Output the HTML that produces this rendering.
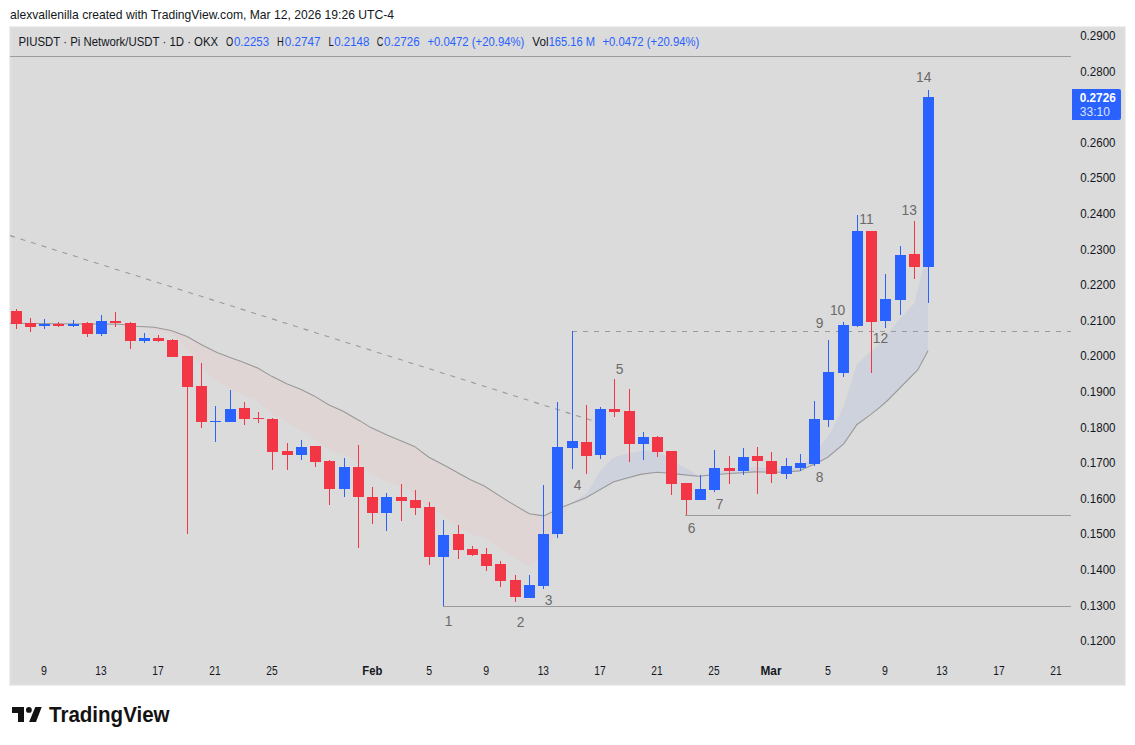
<!DOCTYPE html>
<html><head><meta charset="utf-8"><style>
html,body{margin:0;padding:0;background:#fff;width:1135px;height:745px;overflow:hidden}
svg{display:block}
text{font-family:"Liberation Sans",sans-serif;white-space:pre}
</style></head><body>
<svg width="1135" height="745" viewBox="0 0 1135 745">
<rect x="0" y="0" width="1135" height="745" fill="#ffffff"/>
<rect x="9" y="26" width="1117" height="660" fill="#eeeeee"/>
<rect x="10" y="27" width="1115" height="658" fill="#dedede"/>
<rect x="12" y="29" width="1111" height="654" fill="#dbdbdb"/>
<line x1="10" y1="56.5" x2="1071" y2="56.5" stroke="#9c9c9c" stroke-width="1"/>
<defs><clipPath id="pane"><rect x="10" y="57" width="1061" height="628"/></clipPath></defs>
<g clip-path="url(#pane)">
<path d="M120.5,324.3 L121.0,324.3 L121.5,324.4 L122.0,324.5 L122.5,324.5 L123.0,324.6 L123.5,324.7 L124.0,324.7 L124.5,324.8 L125.0,324.9 L125.5,324.9 L126.0,325.0 L126.5,325.1 L127.0,325.1 L127.5,325.2 L128.0,325.2 L128.5,325.3 L129.0,325.4 L129.5,325.4 L130.0,325.5 L130.5,325.6 L131.0,325.6 L131.5,325.7 L132.0,325.8 L132.5,325.8 L133.0,325.9 L133.5,326.0 L134.0,326.0 L134.5,326.1 L135.0,326.2 L135.5,326.2 L136.0,326.3 L136.5,326.3 L137.0,326.4 L137.5,326.4 L138.0,326.4 L138.5,326.4 L139.0,326.5 L139.5,326.5 L140.0,326.5 L140.5,326.6 L141.0,326.6 L141.5,326.6 L142.0,326.6 L142.5,326.7 L143.0,326.7 L143.5,326.7 L144.0,326.7 L144.5,326.8 L145.0,326.8 L145.5,326.8 L146.0,326.9 L146.5,326.9 L147.0,326.9 L147.5,326.9 L148.0,327.0 L148.5,327.0 L149.0,327.0 L149.5,327.1 L150.0,327.1 L150.5,327.1 L151.0,327.1 L151.5,327.2 L152.0,327.2 L152.5,327.2 L153.0,327.2 L153.5,327.3 L154.0,327.3 L154.5,327.4 L155.0,327.5 L155.5,327.6 L156.0,327.7 L156.5,327.8 L157.0,327.9 L157.5,328.0 L158.0,328.1 L158.5,328.1 L159.0,328.2 L159.5,328.3 L160.0,328.4 L160.5,328.5 L161.0,328.6 L161.5,328.7 L162.0,328.8 L162.5,328.9 L163.0,329.0 L163.5,329.1 L164.0,329.2 L164.5,329.3 L165.0,329.4 L165.5,329.5 L166.0,329.6 L166.5,329.7 L167.0,329.7 L167.5,329.8 L168.0,329.9 L168.5,330.0 L169.0,330.1 L169.5,330.2 L170.0,330.3 L170.5,330.4 L171.0,330.5 L171.5,330.7 L172.0,330.9 L172.5,331.1 L173.0,331.2 L173.5,331.4 L174.0,331.6 L174.5,331.8 L175.0,332.0 L175.5,332.2 L176.0,332.4 L176.5,332.6 L177.0,332.8 L177.5,332.9 L178.0,333.1 L178.5,333.3 L179.0,333.5 L179.5,333.7 L180.0,333.9 L180.5,334.1 L181.0,334.2 L181.5,334.4 L182.0,334.6 L182.5,334.8 L183.0,335.0 L183.5,335.2 L184.0,335.4 L184.5,335.6 L185.0,335.8 L185.5,335.9 L186.0,336.1 L186.5,336.3 L187.0,336.5 L187.5,336.8 L188.0,337.1 L188.5,337.3 L189.0,337.6 L189.5,337.9 L190.0,338.2 L190.5,338.5 L191.0,338.7 L191.5,339.0 L192.0,339.3 L192.5,339.6 L193.0,339.9 L193.5,340.1 L194.0,340.4 L194.5,340.7 L195.0,341.0 L195.5,341.3 L196.0,341.6 L196.5,341.8 L197.0,342.1 L197.5,342.4 L198.0,342.7 L198.5,343.0 L199.0,343.2 L199.5,343.5 L200.0,343.8 L200.5,344.1 L201.0,344.4 L201.5,344.6 L202.0,344.9 L202.5,345.2 L203.0,345.5 L203.5,345.7 L204.0,346.0 L204.5,346.2 L205.0,346.5 L205.5,346.7 L206.0,347.0 L206.5,347.2 L207.0,347.5 L207.5,347.7 L208.0,348.0 L208.5,348.2 L209.0,348.5 L209.5,348.7 L210.0,349.0 L210.5,349.2 L211.0,349.5 L211.5,349.7 L212.0,350.0 L212.5,350.2 L213.0,350.5 L213.5,350.7 L214.0,351.0 L214.5,351.2 L215.0,351.5 L215.5,351.7 L216.0,352.0 L216.5,352.2 L217.0,352.5 L217.5,352.7 L218.0,352.9 L218.5,353.1 L219.0,353.3 L219.5,353.5 L220.0,353.6 L220.5,353.8 L221.0,354.0 L221.5,354.2 L222.0,354.4 L222.5,354.6 L223.0,354.8 L223.5,355.0 L224.0,355.2 L224.5,355.4 L225.0,355.6 L225.5,355.7 L226.0,355.9 L226.5,356.1 L227.0,356.3 L227.5,356.5 L228.0,356.7 L228.5,356.9 L229.0,357.1 L229.5,357.3 L230.0,357.5 L230.5,357.7 L231.0,357.9 L231.5,358.0 L232.0,358.2 L232.5,358.4 L233.0,358.6 L233.5,358.8 L234.0,358.9 L234.5,359.1 L235.0,359.3 L235.5,359.5 L236.0,359.6 L236.5,359.8 L237.0,360.0 L237.5,360.1 L238.0,360.3 L238.5,360.5 L239.0,360.7 L239.5,360.8 L240.0,361.0 L240.5,361.2 L241.0,361.4 L241.5,361.6 L242.0,361.8 L242.5,362.0 L243.0,362.2 L243.5,362.4 L244.0,362.6 L244.5,362.8 L245.0,363.0 L245.5,363.2 L246.0,363.4 L246.5,363.6 L247.0,363.8 L247.5,364.0 L248.0,364.2 L248.5,364.4 L249.0,364.6 L249.5,364.8 L250.0,365.0 L250.5,365.2 L251.0,365.4 L251.5,365.5 L252.0,365.7 L252.5,365.9 L253.0,366.1 L253.5,366.3 L254.0,366.5 L254.5,366.7 L255.0,366.9 L255.5,367.1 L256.0,367.3 L256.5,367.5 L257.0,367.7 L257.5,367.9 L258.0,368.2 L258.5,368.5 L259.0,368.8 L259.5,369.1 L260.0,369.4 L260.5,369.7 L261.0,370.0 L261.5,370.3 L262.0,370.6 L262.5,370.8 L263.0,371.1 L263.5,371.4 L264.0,371.7 L264.5,372.0 L265.0,372.3 L265.5,372.6 L266.0,372.9 L266.5,373.2 L267.0,373.5 L267.5,373.8 L268.0,374.1 L268.5,374.4 L269.0,374.7 L269.5,375.0 L270.0,375.3 L270.5,375.6 L271.0,375.9 L271.5,376.2 L272.0,376.5 L272.5,376.7 L273.0,377.0 L273.5,377.2 L274.0,377.5 L274.5,377.7 L275.0,378.0 L275.5,378.2 L276.0,378.5 L276.5,378.7 L277.0,379.0 L277.5,379.2 L278.0,379.5 L278.5,379.7 L279.0,380.0 L279.5,380.2 L280.0,380.5 L280.5,380.7 L281.0,381.0 L281.5,381.2 L282.0,381.5 L282.5,381.7 L283.0,382.0 L283.5,382.2 L284.0,382.5 L284.5,382.7 L285.0,383.0 L285.5,383.2 L286.0,383.5 L286.5,383.7 L287.0,383.9 L287.5,384.1 L288.0,384.3 L288.5,384.5 L289.0,384.7 L289.5,384.9 L290.0,385.1 L290.5,385.3 L291.0,385.5 L291.5,385.7 L292.0,385.9 L292.5,386.1 L293.0,386.3 L293.5,386.5 L294.0,386.7 L294.5,386.9 L295.0,387.1 L295.5,387.3 L296.0,387.5 L296.5,387.7 L297.0,387.8 L297.5,388.0 L298.0,388.2 L298.5,388.4 L299.0,388.6 L299.5,388.8 L300.0,389.0 L300.5,389.2 L301.0,389.4 L301.5,389.6 L302.0,389.9 L302.5,390.1 L303.0,390.4 L303.5,390.6 L304.0,390.9 L304.5,391.1 L305.0,391.4 L305.5,391.6 L306.0,391.9 L306.5,392.1 L307.0,392.4 L307.5,392.6 L308.0,392.9 L308.5,393.1 L309.0,393.4 L309.5,393.6 L310.0,393.9 L310.5,394.1 L311.0,394.4 L311.5,394.6 L312.0,394.9 L312.5,395.1 L313.0,395.4 L313.5,395.6 L314.0,395.9 L314.5,396.1 L315.0,396.5 L315.5,396.8 L316.0,397.1 L316.5,397.4 L317.0,397.7 L317.5,398.0 L318.0,398.3 L318.5,398.6 L319.0,398.9 L319.5,399.2 L320.0,399.5 L320.5,399.8 L321.0,400.1 L321.5,400.4 L322.0,400.7 L322.5,401.1 L323.0,401.4 L323.5,401.7 L324.0,402.0 L324.5,402.3 L325.0,402.6 L325.5,402.9 L326.0,403.2 L326.5,403.5 L327.0,403.8 L327.5,404.1 L328.0,404.4 L328.5,404.7 L329.0,405.0 L329.5,405.2 L330.0,405.4 L330.5,405.6 L331.0,405.9 L331.5,406.1 L332.0,406.3 L332.5,406.5 L333.0,406.7 L333.5,407.0 L334.0,407.2 L334.5,407.4 L335.0,407.6 L335.5,407.8 L336.0,408.1 L336.5,408.3 L337.0,408.5 L337.5,408.7 L338.0,408.9 L338.5,409.2 L339.0,409.4 L339.5,409.6 L340.0,409.8 L340.5,410.1 L341.0,410.3 L341.5,410.5 L342.0,410.7 L342.5,410.9 L343.0,411.2 L343.5,411.4 L344.0,411.7 L344.5,412.0 L345.0,412.3 L345.5,412.6 L346.0,412.9 L346.5,413.2 L347.0,413.4 L347.5,413.7 L348.0,414.0 L348.5,414.3 L349.0,414.6 L349.5,414.9 L350.0,415.2 L350.5,415.4 L351.0,415.7 L351.5,416.0 L352.0,416.3 L352.5,416.6 L353.0,416.9 L353.5,417.2 L354.0,417.5 L354.5,417.7 L355.0,418.0 L355.5,418.3 L356.0,418.6 L356.5,418.9 L357.0,419.2 L357.5,419.5 L358.0,419.8 L358.5,420.0 L359.0,420.3 L359.5,420.6 L360.0,420.9 L360.5,421.2 L361.0,421.5 L361.5,421.8 L362.0,422.1 L362.5,422.4 L363.0,422.7 L363.5,423.1 L364.0,423.4 L364.5,423.7 L365.0,424.0 L365.5,424.3 L366.0,424.6 L366.5,424.9 L367.0,425.2 L367.5,425.5 L368.0,425.8 L368.5,426.1 L369.0,426.4 L369.5,426.7 L370.0,427.0 L370.5,427.4 L371.0,427.6 L371.5,427.9 L372.0,428.1 L372.5,428.3 L373.0,428.6 L373.5,428.8 L374.0,429.0 L374.5,429.3 L375.0,429.5 L375.5,429.7 L376.0,430.0 L376.5,430.2 L377.0,430.4 L377.5,430.7 L378.0,430.9 L378.5,431.1 L379.0,431.4 L379.5,431.6 L380.0,431.8 L380.5,432.1 L381.0,432.3 L381.5,432.5 L382.0,432.8 L382.5,433.0 L383.0,433.2 L383.5,433.5 L384.0,433.7 L384.5,433.9 L385.0,434.2 L385.5,434.4 L386.0,434.6 L386.5,434.9 L387.0,435.1 L387.5,435.3 L388.0,435.5 L388.5,435.7 L389.0,435.9 L389.5,436.1 L390.0,436.3 L390.5,436.5 L391.0,436.7 L391.5,437.0 L392.0,437.2 L392.5,437.4 L393.0,437.6 L393.5,437.8 L394.0,438.0 L394.5,438.2 L395.0,438.4 L395.5,438.6 L396.0,438.8 L396.5,439.0 L397.0,439.2 L397.5,439.4 L398.0,439.6 L398.5,439.8 L399.0,440.0 L399.5,440.3 L400.0,440.5 L400.5,440.7 L401.0,440.9 L401.5,441.1 L402.0,441.3 L402.5,441.5 L403.0,441.7 L403.5,441.9 L404.0,442.1 L404.5,442.3 L405.0,442.5 L405.5,442.7 L406.0,442.9 L406.5,443.1 L407.0,443.3 L407.5,443.6 L408.0,443.8 L408.5,444.0 L409.0,444.2 L409.5,444.4 L410.0,444.6 L410.5,444.8 L411.0,445.0 L411.5,445.2 L412.0,445.4 L412.5,445.6 L413.0,445.8 L413.5,446.0 L414.0,446.2 L414.5,446.5 L415.0,446.8 L415.5,447.2 L416.0,447.6 L416.5,448.0 L417.0,448.3 L417.5,448.7 L418.0,449.1 L418.5,449.5 L419.0,449.8 L419.5,450.2 L420.0,450.6 L420.5,450.9 L421.0,451.3 L421.5,451.7 L422.0,452.1 L422.5,452.4 L423.0,452.8 L423.5,453.2 L424.0,453.6 L424.5,453.9 L425.0,454.3 L425.5,454.7 L426.0,455.0 L426.5,455.4 L427.0,455.8 L427.5,456.2 L428.0,456.5 L428.5,456.9 L429.0,457.3 L429.5,457.5 L430.0,457.8 L430.5,458.0 L431.0,458.3 L431.5,458.6 L432.0,458.8 L432.5,459.1 L433.0,459.4 L433.5,459.6 L434.0,459.9 L434.5,460.1 L435.0,460.4 L435.5,460.7 L436.0,460.9 L436.5,461.2 L437.0,461.5 L437.5,461.7 L438.0,462.0 L438.5,462.2 L439.0,462.5 L439.5,462.8 L440.0,463.0 L440.5,463.3 L441.0,463.6 L441.5,463.8 L442.0,464.1 L442.5,464.3 L443.0,464.6 L443.5,464.9 L444.0,465.1 L444.5,465.4 L445.0,465.7 L445.5,465.9 L446.0,466.2 L446.5,466.4 L447.0,466.7 L447.5,467.0 L448.0,467.3 L448.5,467.6 L449.0,467.8 L449.5,468.1 L450.0,468.4 L450.5,468.7 L451.0,469.0 L451.5,469.2 L452.0,469.5 L452.5,469.8 L453.0,470.1 L453.5,470.4 L454.0,470.6 L454.5,470.9 L455.0,471.2 L455.5,471.5 L456.0,471.8 L456.5,472.0 L457.0,472.3 L457.5,472.6 L458.0,472.9 L458.5,473.2 L459.0,473.4 L459.5,473.7 L460.0,474.0 L460.5,474.3 L461.0,474.5 L461.5,474.8 L462.0,475.1 L462.5,475.4 L463.0,475.6 L463.5,475.9 L464.0,476.2 L464.5,476.4 L465.0,476.7 L465.5,477.0 L466.0,477.2 L466.5,477.5 L467.0,477.8 L467.5,478.0 L468.0,478.3 L468.5,478.6 L469.0,478.9 L469.5,479.1 L470.0,479.4 L470.5,479.6 L471.0,479.9 L471.5,480.1 L472.0,480.3 L472.5,480.6 L473.0,480.8 L473.5,481.1 L474.0,481.3 L474.5,481.5 L475.0,481.8 L475.5,482.0 L476.0,482.2 L476.5,482.5 L477.0,482.7 L477.5,482.9 L478.0,483.2 L478.5,483.4 L479.0,483.6 L479.5,483.9 L480.0,484.1 L480.5,484.4 L481.0,484.6 L481.5,484.8 L482.0,485.1 L482.5,485.3 L483.0,485.5 L483.5,485.8 L484.0,486.0 L484.5,486.3 L485.0,486.6 L485.5,486.9 L486.0,487.2 L486.5,487.6 L487.0,487.9 L487.5,488.2 L488.0,488.5 L488.5,488.8 L489.0,489.1 L489.5,489.5 L490.0,489.8 L490.5,490.1 L491.0,490.4 L491.5,490.7 L492.0,491.1 L492.5,491.4 L493.0,491.7 L493.5,492.0 L494.0,492.3 L494.5,492.6 L495.0,493.0 L495.5,493.3 L496.0,493.6 L496.5,493.9 L497.0,494.2 L497.5,494.5 L498.0,494.9 L498.5,495.2 L499.0,495.5 L499.5,495.8 L500.0,496.1 L500.5,496.4 L501.0,496.8 L501.5,497.1 L502.0,497.4 L502.5,497.7 L503.0,498.0 L503.5,498.4 L504.0,498.7 L504.5,499.0 L505.0,499.3 L505.5,499.6 L506.0,499.9 L506.5,500.3 L507.0,500.6 L507.5,500.9 L508.0,501.2 L508.5,501.5 L509.0,501.8 L509.5,502.1 L510.0,502.4 L510.5,502.7 L511.0,503.0 L511.5,503.3 L512.0,503.6 L512.5,503.9 L513.0,504.2 L513.5,504.5 L514.0,504.8 L514.5,505.1 L515.0,505.4 L515.5,505.7 L516.0,505.9 L516.5,506.2 L517.0,506.5 L517.5,506.8 L518.0,507.1 L518.5,507.4 L519.0,507.7 L519.5,508.0 L520.0,508.3 L520.5,508.6 L521.0,508.9 L521.5,509.2 L522.0,509.5 L522.5,509.8 L523.0,510.1 L523.5,510.4 L524.0,510.7 L524.5,511.0 L525.0,511.3 L525.5,511.6 L526.0,511.9 L526.5,512.1 L527.0,512.4 L527.5,512.7 L528.0,513.0 L528.5,513.3 L529.0,513.6 L529.5,513.8 L530.0,513.9 L530.5,514.0 L531.0,514.0 L531.5,514.1 L532.0,514.2 L532.5,514.3 L533.0,514.3 L533.5,514.4 L534.0,514.5 L534.5,514.6 L535.0,514.6 L535.5,514.7 L536.0,514.8 L536.5,514.8 L537.0,514.9 L537.5,515.0 L538.0,515.1 L538.5,515.1 L539.0,515.2 L539.5,515.3 L540.0,515.3 L540.5,515.4 L541.0,515.5 L541.5,515.6 L542.0,515.6 L542.5,515.7 L543.0,515.8 L543.5,515.9 L544.0,515.8 L544.5,515.6 L545.0,515.3 L545.5,515.1 L546.0,514.9 L546.5,514.6 L547.0,514.4 L547.5,514.1 L548.0,513.9 L548.5,513.7 L549.0,513.4 L549.5,513.2 L550.0,512.9 L550.5,512.7 L551.0,512.5 L551.5,512.2 L552.0,512.0 L552.5,511.8 L553.0,511.5 L553.5,511.3 L554.0,511.0 L554.5,510.8 L555.0,510.6 L555.5,510.3 L556.0,510.1 L556.5,509.8 L557.0,509.6 L557.5,509.4 L558.0,509.1 L558.5,508.9 L559.0,508.7 L559.5,508.4 L560.0,508.2 L560.5,507.9 L561.0,507.7 L561.5,507.5 L562.0,507.2 L562.5,507.0 L563.0,506.7 L563.5,506.5 L564.0,506.3 L564.5,506.1 L565.0,506.0 L565.5,505.8 L566.0,505.6 L566.5,505.4 L567.0,505.2 L567.5,505.0 L568.0,504.8 L568.5,504.6 L569.0,504.4 L569.5,504.2 L570.0,504.0 L570.5,503.8 L570.5,503.8 L570.0,504.7 L569.5,505.5 L569.0,506.3 L568.5,507.2 L568.0,508.0 L567.5,508.8 L567.0,509.7 L566.5,510.5 L566.0,511.3 L565.5,512.2 L565.0,513.0 L564.5,514.2 L564.0,515.4 L563.5,516.6 L563.0,517.8 L562.5,519.0 L562.0,520.1 L561.5,521.3 L561.0,522.5 L560.5,523.7 L560.0,524.9 L559.5,526.1 L559.0,527.3 L558.5,528.5 L558.0,529.7 L557.5,530.9 L557.0,532.0 L556.5,533.2 L556.0,533.9 L555.5,534.7 L555.0,535.4 L554.5,536.2 L554.0,536.9 L553.5,537.7 L553.0,538.5 L552.5,539.2 L552.0,540.0 L551.5,540.7 L551.0,541.5 L550.5,542.3 L550.0,543.0 L549.5,543.8 L549.0,544.5 L548.5,545.3 L548.0,546.1 L547.5,546.8 L547.0,547.6 L546.5,548.3 L546.0,549.1 L545.5,549.8 L545.0,550.4 L544.5,550.9 L544.0,551.4 L543.5,552.0 L543.0,552.5 L542.5,553.0 L542.0,553.5 L541.5,554.0 L541.0,554.5 L540.5,555.1 L540.0,555.6 L539.5,556.1 L539.0,556.6 L538.5,557.1 L538.0,557.6 L537.5,558.1 L537.0,558.7 L536.5,559.2 L536.0,559.7 L535.5,560.2 L535.0,560.7 L534.5,561.2 L534.0,561.8 L533.5,562.3 L533.0,562.8 L532.5,563.3 L532.0,563.8 L531.5,564.3 L531.0,564.8 L530.5,565.4 L530.0,565.9 L529.5,566.4 L529.0,566.4 L528.5,566.1 L528.0,565.8 L527.5,565.5 L527.0,565.2 L526.5,564.9 L526.0,564.6 L525.5,564.3 L525.0,564.0 L524.5,563.7 L524.0,563.4 L523.5,563.1 L523.0,562.8 L522.5,562.5 L522.0,562.2 L521.5,561.8 L521.0,561.5 L520.5,561.2 L520.0,560.9 L519.5,560.6 L519.0,560.3 L518.5,560.0 L518.0,559.7 L517.5,559.4 L517.0,559.1 L516.5,558.8 L516.0,558.5 L515.5,558.2 L515.0,557.9 L514.5,557.6 L514.0,557.3 L513.5,557.0 L513.0,556.7 L512.5,556.4 L512.0,556.1 L511.5,555.8 L511.0,555.4 L510.5,555.1 L510.0,554.8 L509.5,554.5 L509.0,554.2 L508.5,553.9 L508.0,553.6 L507.5,553.3 L507.0,552.9 L506.5,552.6 L506.0,552.3 L505.5,551.9 L505.0,551.6 L504.5,551.3 L504.0,550.9 L503.5,550.6 L503.0,550.3 L502.5,549.9 L502.0,549.6 L501.5,549.3 L501.0,548.9 L500.5,548.6 L500.0,548.3 L499.5,547.9 L499.0,547.6 L498.5,547.3 L498.0,546.9 L497.5,546.6 L497.0,546.3 L496.5,545.9 L496.0,545.6 L495.5,545.2 L495.0,544.9 L494.5,544.6 L494.0,544.2 L493.5,543.9 L493.0,543.6 L492.5,543.2 L492.0,542.9 L491.5,542.6 L491.0,542.2 L490.5,541.9 L490.0,541.6 L489.5,541.2 L489.0,540.9 L488.5,540.6 L488.0,540.2 L487.5,539.9 L487.0,539.6 L486.5,539.2 L486.0,538.9 L485.5,538.6 L485.0,538.2 L484.5,537.9 L484.0,537.6 L483.5,537.5 L483.0,537.3 L482.5,537.2 L482.0,537.0 L481.5,536.9 L481.0,536.8 L480.5,536.6 L480.0,536.5 L479.5,536.3 L479.0,536.2 L478.5,536.0 L478.0,535.9 L477.5,535.7 L477.0,535.6 L476.5,535.4 L476.0,535.3 L475.5,535.1 L475.0,535.0 L474.5,534.8 L474.0,534.7 L473.5,534.5 L473.0,534.4 L472.5,534.2 L472.0,534.1 L471.5,533.9 L471.0,533.8 L470.5,533.6 L470.0,533.5 L469.5,533.2 L469.0,533.0 L468.5,532.7 L468.0,532.5 L467.5,532.2 L467.0,531.9 L466.5,531.7 L466.0,531.4 L465.5,531.1 L465.0,530.9 L464.5,530.6 L464.0,530.4 L463.5,530.1 L463.0,529.8 L462.5,529.6 L462.0,529.3 L461.5,529.0 L461.0,528.8 L460.5,528.5 L460.0,528.3 L459.5,528.0 L459.0,527.6 L458.5,527.3 L458.0,526.9 L457.5,526.5 L457.0,526.2 L456.5,525.8 L456.0,525.5 L455.5,525.1 L455.0,524.7 L454.5,524.4 L454.0,524.0 L453.5,523.6 L453.0,523.3 L452.5,522.9 L452.0,522.6 L451.5,522.2 L451.0,521.8 L450.5,521.5 L450.0,521.1 L449.5,520.7 L449.0,520.4 L448.5,520.0 L448.0,519.7 L447.5,519.3 L447.0,518.9 L446.5,518.6 L446.0,518.2 L445.5,517.8 L445.0,517.5 L444.5,517.1 L444.0,516.8 L443.5,516.4 L443.0,516.0 L442.5,515.7 L442.0,515.3 L441.5,514.9 L441.0,514.6 L440.5,514.2 L440.0,513.9 L439.5,513.5 L439.0,513.2 L438.5,512.8 L438.0,512.5 L437.5,512.2 L437.0,511.8 L436.5,511.5 L436.0,511.2 L435.5,510.8 L435.0,510.5 L434.5,510.1 L434.0,509.8 L433.5,509.5 L433.0,509.1 L432.5,508.8 L432.0,508.4 L431.5,508.1 L431.0,507.8 L430.5,507.4 L430.0,507.1 L429.5,506.7 L429.0,506.4 L428.5,506.1 L428.0,505.7 L427.5,505.4 L427.0,505.1 L426.5,504.7 L426.0,504.4 L425.5,504.0 L425.0,503.7 L424.5,503.4 L424.0,503.0 L423.5,502.7 L423.0,502.3 L422.5,502.0 L422.0,501.6 L421.5,501.1 L421.0,500.7 L420.5,500.2 L420.0,499.8 L419.5,499.4 L419.0,498.9 L418.5,498.5 L418.0,498.1 L417.5,497.6 L417.0,497.2 L416.5,496.7 L416.0,496.3 L415.5,495.9 L415.0,495.4 L414.5,495.0 L414.0,494.6 L413.5,494.1 L413.0,493.7 L412.5,493.2 L412.0,492.8 L411.5,492.4 L411.0,491.9 L410.5,491.5 L410.0,491.1 L409.5,490.7 L409.0,490.5 L408.5,490.2 L408.0,490.0 L407.5,489.8 L407.0,489.6 L406.5,489.4 L406.0,489.2 L405.5,489.0 L405.0,488.8 L404.5,488.6 L404.0,488.4 L403.5,488.2 L403.0,488.0 L402.5,487.8 L402.0,487.5 L401.5,487.3 L401.0,487.1 L400.5,486.9 L400.0,486.7 L399.5,486.5 L399.0,486.3 L398.5,486.1 L398.0,485.9 L397.5,485.7 L397.0,485.5 L396.5,485.3 L396.0,485.1 L395.5,484.9 L395.0,484.6 L394.5,484.4 L394.0,484.2 L393.5,484.0 L393.0,483.8 L392.5,483.6 L392.0,483.4 L391.5,483.2 L391.0,483.0 L390.5,482.8 L390.0,482.6 L389.5,482.4 L389.0,482.2 L388.5,481.9 L388.0,481.7 L387.5,481.5 L387.0,481.3 L386.5,481.1 L386.0,480.9 L385.5,480.7 L385.0,480.5 L384.5,480.3 L384.0,480.1 L383.5,479.9 L383.0,479.7 L382.5,479.4 L382.0,479.2 L381.5,479.0 L381.0,478.8 L380.5,478.6 L380.0,478.4 L379.5,478.2 L379.0,478.0 L378.5,477.8 L378.0,477.6 L377.5,477.4 L377.0,477.1 L376.5,476.9 L376.0,476.7 L375.5,476.5 L375.0,476.3 L374.5,476.1 L374.0,475.9 L373.5,475.7 L373.0,475.5 L372.5,475.3 L372.0,475.1 L371.5,474.9 L371.0,474.6 L370.5,474.2 L370.0,473.8 L369.5,473.3 L369.0,472.8 L368.5,472.4 L368.0,471.9 L367.5,471.4 L367.0,471.0 L366.5,470.5 L366.0,470.0 L365.5,469.5 L365.0,469.1 L364.5,468.6 L364.0,468.1 L363.5,467.7 L363.0,467.2 L362.5,466.7 L362.0,466.3 L361.5,465.8 L361.0,465.3 L360.5,464.9 L360.0,464.4 L359.5,464.1 L359.0,463.7 L358.5,463.4 L358.0,463.0 L357.5,462.7 L357.0,462.3 L356.5,462.0 L356.0,461.6 L355.5,461.3 L355.0,460.9 L354.5,460.6 L354.0,460.2 L353.5,459.9 L353.0,459.5 L352.5,459.2 L352.0,458.8 L351.5,458.5 L351.0,458.1 L350.5,457.8 L350.0,457.4 L349.5,457.1 L349.0,456.9 L348.5,456.8 L348.0,456.6 L347.5,456.5 L347.0,456.3 L346.5,456.1 L346.0,456.0 L345.5,455.8 L345.0,455.7 L344.5,455.5 L344.0,455.4 L343.5,455.2 L343.0,455.0 L342.5,454.9 L342.0,454.7 L341.5,454.6 L341.0,454.4 L340.5,454.2 L340.0,454.1 L339.5,453.9 L339.0,453.8 L338.5,453.6 L338.0,453.5 L337.5,453.3 L337.0,453.1 L336.5,453.0 L336.0,452.8 L335.5,452.7 L335.0,452.5 L334.5,452.3 L334.0,452.2 L333.5,452.0 L333.0,451.8 L332.5,451.4 L332.0,451.1 L331.5,450.8 L331.0,450.5 L330.5,450.2 L330.0,449.9 L329.5,449.6 L329.0,449.3 L328.5,449.0 L328.0,448.6 L327.5,448.3 L327.0,448.0 L326.5,447.7 L326.0,447.4 L325.5,447.1 L325.0,446.8 L324.5,446.5 L324.0,446.2 L323.5,445.9 L323.0,445.5 L322.5,445.2 L322.0,444.9 L321.5,444.6 L321.0,444.3 L320.5,444.0 L320.0,443.7 L319.5,443.4 L319.0,443.1 L318.5,442.7 L318.0,442.4 L317.5,442.1 L317.0,441.8 L316.5,441.4 L316.0,441.0 L315.5,440.7 L315.0,440.3 L314.5,439.9 L314.0,439.5 L313.5,439.2 L313.0,438.8 L312.5,438.4 L312.0,438.0 L311.5,437.7 L311.0,437.3 L310.5,436.9 L310.0,436.6 L309.5,436.2 L309.0,435.8 L308.5,435.4 L308.0,435.1 L307.5,434.7 L307.0,434.3 L306.5,434.0 L306.0,433.6 L305.5,433.2 L305.0,432.8 L304.5,432.5 L304.0,432.1 L303.5,431.7 L303.0,431.3 L302.5,431.0 L302.0,430.6 L301.5,430.2 L301.0,429.9 L300.5,429.6 L300.0,429.4 L299.5,429.1 L299.0,428.9 L298.5,428.6 L298.0,428.3 L297.5,428.1 L297.0,427.8 L296.5,427.6 L296.0,427.3 L295.5,427.1 L295.0,426.8 L294.5,426.5 L294.0,426.3 L293.5,426.0 L293.0,425.8 L292.5,425.5 L292.0,425.2 L291.5,425.0 L291.0,424.7 L290.5,424.5 L290.0,424.2 L289.5,423.9 L289.0,423.7 L288.5,423.4 L288.0,423.2 L287.5,422.9 L287.0,422.7 L286.5,422.4 L286.0,422.1 L285.5,421.7 L285.0,421.4 L284.5,421.1 L284.0,420.8 L283.5,420.5 L283.0,420.2 L282.5,419.9 L282.0,419.6 L281.5,419.2 L281.0,418.9 L280.5,418.6 L280.0,418.3 L279.5,418.0 L279.0,417.7 L278.5,417.4 L278.0,417.0 L277.5,416.7 L277.0,416.4 L276.5,416.1 L276.0,415.8 L275.5,415.5 L275.0,415.2 L274.5,414.9 L274.0,414.5 L273.5,414.2 L273.0,413.9 L272.5,413.6 L272.0,413.3 L271.5,413.0 L271.0,412.7 L270.5,412.3 L270.0,412.0 L269.5,411.7 L269.0,411.4 L268.5,411.1 L268.0,410.8 L267.5,410.5 L267.0,410.0 L266.5,409.6 L266.0,409.1 L265.5,408.7 L265.0,408.2 L264.5,407.7 L264.0,407.3 L263.5,406.8 L263.0,406.4 L262.5,405.9 L262.0,405.4 L261.5,405.0 L261.0,404.5 L260.5,404.0 L260.0,403.6 L259.5,403.1 L259.0,402.7 L258.5,402.2 L258.0,401.7 L257.5,401.3 L257.0,400.8 L256.5,400.4 L256.0,400.0 L255.5,399.8 L255.0,399.7 L254.5,399.6 L254.0,399.4 L253.5,399.3 L253.0,399.1 L252.5,399.0 L252.0,398.9 L251.5,398.7 L251.0,398.6 L250.5,398.4 L250.0,398.3 L249.5,398.0 L249.0,397.8 L248.5,397.5 L248.0,397.3 L247.5,397.0 L247.0,396.8 L246.5,396.5 L246.0,396.3 L245.5,396.0 L245.0,395.8 L244.5,395.5 L244.0,395.3 L243.5,395.0 L243.0,394.8 L242.5,394.6 L242.0,394.3 L241.5,394.1 L241.0,393.9 L240.5,393.6 L240.0,393.4 L239.5,393.2 L239.0,392.9 L238.5,392.7 L238.0,392.5 L237.5,392.2 L237.0,392.0 L236.5,391.8 L236.0,391.6 L235.5,391.3 L235.0,391.1 L234.5,390.9 L234.0,390.6 L233.5,390.4 L233.0,390.2 L232.5,389.9 L232.0,389.7 L231.5,389.5 L231.0,389.2 L230.5,389.0 L230.0,388.7 L229.5,388.4 L229.0,388.1 L228.5,387.9 L228.0,387.6 L227.5,387.3 L227.0,387.0 L226.5,386.7 L226.0,386.4 L225.5,386.2 L225.0,385.9 L224.5,385.6 L224.0,385.3 L223.5,385.0 L223.0,384.8 L222.5,384.5 L222.0,384.2 L221.5,383.9 L221.0,383.6 L220.5,383.3 L220.0,383.1 L219.5,382.8 L219.0,382.5 L218.5,382.2 L218.0,381.9 L217.5,381.6 L217.0,381.4 L216.5,381.1 L216.0,380.8 L215.5,380.5 L215.0,380.0 L214.5,379.5 L214.0,379.0 L213.5,378.5 L213.0,378.0 L212.5,377.5 L212.0,377.0 L211.5,376.5 L211.0,376.0 L210.5,375.5 L210.0,375.0 L209.5,374.5 L209.0,374.0 L208.5,373.5 L208.0,373.0 L207.5,372.5 L207.0,372.0 L206.5,371.5 L206.0,371.0 L205.5,370.5 L205.0,370.0 L204.5,369.5 L204.0,369.0 L203.5,368.5 L203.0,368.0 L202.5,367.5 L202.0,367.0 L201.5,366.5 L201.0,365.9 L200.5,365.3 L200.0,364.7 L199.5,364.1 L199.0,363.6 L198.5,363.0 L198.0,362.4 L197.5,361.8 L197.0,361.2 L196.5,360.6 L196.0,360.0 L195.5,359.4 L195.0,358.8 L194.5,358.2 L194.0,357.7 L193.5,357.1 L193.0,356.5 L192.5,355.9 L192.0,355.3 L191.5,354.7 L191.0,354.1 L190.5,353.5 L190.0,352.9 L189.5,352.4 L189.0,351.8 L188.5,351.2 L188.0,350.6 L187.5,350.0 L187.0,349.5 L186.5,348.9 L186.0,348.4 L185.5,347.8 L185.0,347.3 L184.5,346.7 L184.0,346.2 L183.5,345.6 L183.0,345.1 L182.5,344.5 L182.0,344.0 L181.5,343.4 L181.0,342.9 L180.5,342.3 L180.0,341.8 L179.5,341.3 L179.0,340.8 L178.5,340.3 L178.0,339.9 L177.5,339.4 L177.0,338.9 L176.5,338.4 L176.0,337.9 L175.5,337.4 L175.0,336.9 L174.5,336.4 L174.0,336.0 L173.5,335.5 L173.0,335.0 L172.5,334.5 L172.0,334.3 L171.5,334.2 L171.0,334.0 L170.5,333.9 L170.0,333.7 L169.5,333.6 L169.0,333.4 L168.5,333.3 L168.0,333.1 L167.5,333.0 L167.0,332.8 L166.5,332.7 L166.0,332.5 L165.5,332.4 L165.0,332.2 L164.5,332.1 L164.0,331.9 L163.5,331.8 L163.0,331.6 L162.5,331.5 L162.0,331.3 L161.5,331.2 L161.0,331.0 L160.5,330.9 L160.0,330.7 L159.5,330.6 L159.0,330.6 L158.5,330.5 L158.0,330.4 L157.5,330.3 L157.0,330.3 L156.5,330.2 L156.0,330.1 L155.5,330.1 L155.0,330.0 L154.5,329.9 L154.0,329.9 L153.5,329.8 L153.0,329.7 L152.5,329.6 L152.0,329.6 L151.5,329.5 L151.0,329.4 L150.5,329.4 L150.0,329.3 L149.5,329.2 L149.0,329.1 L148.5,329.1 L148.0,329.0 L147.5,328.9 L147.0,328.9 L146.5,328.8 L146.0,328.7 L145.5,328.6 L145.0,328.6 L144.5,328.5 L144.0,328.4 L143.5,328.4 L143.0,328.3 L142.5,328.2 L142.0,328.1 L141.5,328.1 L141.0,328.0 L140.5,327.9 L140.0,327.9 L139.5,327.8 L139.0,327.7 L138.5,327.7 L138.0,327.6 L137.5,327.5 L137.0,327.4 L136.5,327.4 L136.0,327.3 L135.5,327.2 L135.0,327.1 L134.5,327.0 L134.0,326.9 L133.5,326.8 L133.0,326.7 L132.5,326.6 L132.0,326.5 L131.5,326.4 L131.0,326.3 L130.5,326.2 L130.0,326.1 L129.5,326.0 L129.0,325.9 L128.5,325.8 L128.0,325.8 L127.5,325.7 L127.0,325.6 L126.5,325.5 L126.0,325.4 L125.5,325.3 L125.0,325.2 L124.5,325.1 L124.0,325.0 L123.5,324.9 L123.0,324.8 L122.5,324.7 L122.0,324.6 L121.5,324.5 L121.0,324.4 L120.5,324.3 Z" fill="#ded5d4"/>
<path d="M571.0,503.6 L571.5,503.4 L572.0,503.2 L572.5,503.0 L573.0,502.8 L573.5,502.6 L574.0,502.4 L574.5,502.2 L575.0,502.0 L575.5,501.8 L576.0,501.6 L576.5,501.4 L577.0,501.2 L577.5,501.0 L578.0,500.8 L578.5,500.6 L579.0,500.5 L579.5,500.3 L580.0,500.1 L580.5,499.9 L581.0,499.7 L581.5,499.5 L582.0,499.3 L582.5,499.1 L583.0,498.9 L583.5,498.7 L584.0,498.5 L584.5,498.3 L585.0,498.1 L585.5,497.9 L586.0,497.6 L586.5,497.3 L587.0,497.0 L587.5,496.8 L588.0,496.5 L588.5,496.2 L589.0,495.9 L589.5,495.6 L590.0,495.3 L590.5,495.0 L591.0,494.7 L591.5,494.5 L592.0,494.2 L592.5,493.9 L593.0,493.6 L593.5,493.3 L594.0,493.0 L594.5,492.7 L595.0,492.4 L595.5,492.2 L596.0,491.9 L596.5,491.6 L597.0,491.3 L597.5,491.0 L598.0,490.7 L598.5,490.4 L599.0,490.1 L599.5,489.9 L600.0,489.6 L600.5,489.3 L601.0,489.0 L601.5,488.7 L602.0,488.4 L602.5,488.1 L603.0,487.8 L603.5,487.6 L604.0,487.3 L604.5,487.0 L605.0,486.7 L605.5,486.4 L606.0,486.1 L606.5,485.8 L607.0,485.5 L607.5,485.3 L608.0,485.0 L608.5,484.7 L609.0,484.4 L609.5,484.1 L610.0,483.8 L610.5,483.5 L611.0,483.3 L611.5,483.0 L612.0,482.7 L612.5,482.4 L613.0,482.1 L613.5,481.8 L614.0,481.6 L614.5,481.5 L615.0,481.3 L615.5,481.2 L616.0,481.1 L616.5,480.9 L617.0,480.8 L617.5,480.7 L618.0,480.5 L618.5,480.4 L619.0,480.3 L619.5,480.1 L620.0,480.0 L620.5,479.8 L621.0,479.7 L621.5,479.6 L622.0,479.4 L622.5,479.3 L623.0,479.2 L623.5,479.0 L624.0,478.9 L624.5,478.8 L625.0,478.6 L625.5,478.5 L626.0,478.3 L626.5,478.2 L627.0,478.1 L627.5,477.9 L628.0,477.8 L628.5,477.7 L629.0,477.5 L629.5,477.4 L630.0,477.3 L630.5,477.1 L631.0,477.0 L631.5,476.9 L632.0,476.7 L632.5,476.6 L633.0,476.4 L633.5,476.3 L634.0,476.2 L634.5,476.0 L635.0,475.9 L635.5,475.8 L636.0,475.6 L636.5,475.5 L637.0,475.4 L637.5,475.2 L638.0,475.1 L638.5,474.9 L639.0,474.8 L639.5,474.7 L640.0,474.5 L640.5,474.4 L641.0,474.3 L641.5,474.3 L642.0,474.2 L642.5,474.1 L643.0,474.1 L643.5,474.0 L644.0,473.9 L644.5,473.9 L645.0,473.8 L645.5,473.7 L646.0,473.7 L646.5,473.6 L647.0,473.6 L647.5,473.5 L648.0,473.4 L648.5,473.4 L649.0,473.3 L649.5,473.2 L650.0,473.2 L650.5,473.1 L651.0,473.0 L651.5,473.0 L652.0,472.9 L652.5,472.8 L653.0,472.8 L653.5,472.7 L654.0,472.6 L654.5,472.6 L655.0,472.5 L655.5,472.4 L656.0,472.4 L656.5,472.3 L657.0,472.3 L657.5,472.4 L658.0,472.4 L658.5,472.4 L659.0,472.5 L659.5,472.5 L660.0,472.5 L660.5,472.6 L661.0,472.6 L661.5,472.6 L662.0,472.6 L662.5,472.7 L663.0,472.7 L663.5,472.7 L664.0,472.8 L664.5,472.8 L665.0,472.8 L665.5,472.9 L666.0,472.9 L666.5,472.9 L667.0,473.0 L667.5,473.0 L668.0,473.1 L668.5,473.1 L669.0,473.2 L669.5,473.2 L670.0,473.3 L670.5,473.3 L671.0,473.4 L671.5,473.5 L672.0,473.5 L672.5,473.6 L673.0,473.6 L673.5,473.7 L674.0,473.7 L674.5,473.8 L675.0,473.8 L675.5,473.9 L676.0,474.0 L676.5,474.0 L677.0,474.1 L677.5,474.1 L678.0,474.2 L678.5,474.2 L679.0,474.3 L679.5,474.3 L680.0,474.4 L680.5,474.4 L681.0,474.5 L681.5,474.5 L682.0,474.6 L682.5,474.6 L683.0,474.7 L683.5,474.7 L684.0,474.8 L684.5,474.8 L685.0,474.9 L685.5,474.9 L686.0,475.0 L686.5,475.0 L687.0,475.1 L687.5,475.1 L688.0,475.2 L688.5,475.2 L689.0,475.3 L689.5,475.3 L690.0,475.4 L690.5,475.4 L691.0,475.5 L691.5,475.5 L692.0,475.6 L692.5,475.6 L693.0,475.7 L693.5,475.7 L694.0,475.8 L694.5,475.8 L695.0,475.9 L695.5,475.9 L696.0,476.0 L696.5,476.0 L697.0,476.1 L697.5,476.1 L698.0,476.2 L698.5,476.2 L699.0,476.1 L699.5,476.1 L700.0,476.0 L700.5,476.0 L701.0,476.0 L701.5,475.9 L702.0,475.9 L702.5,475.8 L703.0,475.8 L703.5,475.7 L704.0,475.7 L704.5,475.6 L705.0,475.6 L705.5,475.6 L706.0,475.5 L706.5,475.5 L707.0,475.4 L707.5,475.4 L708.0,475.3 L708.5,475.3 L709.0,475.2 L709.5,475.2 L710.0,475.2 L710.5,475.1 L711.0,475.1 L711.5,475.0 L712.0,475.0 L712.5,474.9 L713.0,474.9 L713.5,474.8 L714.0,474.8 L714.5,474.8 L715.0,474.7 L715.5,474.7 L716.0,474.6 L716.5,474.6 L717.0,474.5 L717.5,474.5 L718.0,474.4 L718.5,474.4 L719.0,474.4 L719.5,474.3 L720.0,474.3 L720.5,474.2 L721.0,474.2 L721.5,474.1 L722.0,474.1 L722.5,474.0 L723.0,474.0 L723.5,474.0 L724.0,473.9 L724.5,473.9 L725.0,473.8 L725.5,473.8 L726.0,473.7 L726.5,473.7 L727.0,473.7 L727.5,473.6 L728.0,473.6 L728.5,473.6 L729.0,473.5 L729.5,473.5 L730.0,473.5 L730.5,473.4 L731.0,473.4 L731.5,473.4 L732.0,473.3 L732.5,473.3 L733.0,473.3 L733.5,473.2 L734.0,473.2 L734.5,473.2 L735.0,473.2 L735.5,473.1 L736.0,473.1 L736.5,473.1 L737.0,473.0 L737.5,473.0 L738.0,473.0 L738.5,472.9 L739.0,472.9 L739.5,472.9 L740.0,472.8 L740.5,472.8 L741.0,472.8 L741.5,472.7 L742.0,472.7 L742.5,472.7 L743.0,472.6 L743.5,472.6 L744.0,472.6 L744.5,472.5 L745.0,472.5 L745.5,472.5 L746.0,472.4 L746.5,472.4 L747.0,472.4 L747.5,472.4 L748.0,472.3 L748.5,472.3 L749.0,472.3 L749.5,472.2 L750.0,472.2 L750.5,472.2 L751.0,472.1 L751.5,472.1 L752.0,472.1 L752.5,472.0 L753.0,472.0 L753.5,472.0 L754.0,471.9 L754.5,471.9 L755.0,471.9 L755.5,471.9 L756.0,471.9 L756.5,471.9 L757.0,471.9 L757.5,471.9 L758.0,471.9 L758.5,472.0 L759.0,472.0 L759.5,472.0 L760.0,472.0 L760.5,472.0 L761.0,472.0 L761.5,472.0 L762.0,472.0 L762.5,472.0 L763.0,472.0 L763.5,472.0 L764.0,472.0 L764.5,472.0 L765.0,472.0 L765.5,472.1 L766.0,472.1 L766.5,472.1 L767.0,472.1 L767.5,472.1 L768.0,472.1 L768.5,472.1 L769.0,472.1 L769.5,472.1 L770.0,472.1 L770.5,472.1 L771.0,472.1 L771.5,472.1 L772.0,472.1 L772.5,472.2 L773.0,472.2 L773.5,472.2 L774.0,472.2 L774.5,472.2 L775.0,472.2 L775.5,472.2 L776.0,472.2 L776.5,472.2 L777.0,472.2 L777.5,472.2 L778.0,472.2 L778.5,472.2 L779.0,472.2 L779.5,472.3 L780.0,472.3 L780.5,472.3 L781.0,472.3 L781.5,472.3 L782.0,472.3 L782.5,472.3 L783.0,472.3 L783.5,472.2 L784.0,472.2 L784.5,472.2 L785.0,472.1 L785.5,472.1 L786.0,472.0 L786.5,472.0 L787.0,472.0 L787.5,471.9 L788.0,471.9 L788.5,471.8 L789.0,471.8 L789.5,471.7 L790.0,471.7 L790.5,471.7 L791.0,471.6 L791.5,471.6 L792.0,471.5 L792.5,471.5 L793.0,471.5 L793.5,471.4 L794.0,471.4 L794.5,471.3 L795.0,471.3 L795.5,471.2 L796.0,471.2 L796.5,471.2 L797.0,471.1 L797.5,471.1 L798.0,471.0 L798.5,471.0 L799.0,471.0 L799.5,470.9 L800.0,470.7 L800.5,470.5 L801.0,470.2 L801.5,470.0 L802.0,469.7 L802.5,469.4 L803.0,469.2 L803.5,468.9 L804.0,468.7 L804.5,468.5 L805.0,468.2 L805.5,468.0 L806.0,467.8 L806.5,467.6 L807.0,467.3 L807.5,467.1 L808.0,466.9 L808.5,466.7 L809.0,466.4 L809.5,466.2 L810.0,466.0 L810.5,465.8 L811.0,465.5 L811.5,465.3 L812.0,465.1 L812.5,464.9 L813.0,464.6 L813.5,464.4 L814.0,464.2 L814.5,464.0 L815.0,463.7 L815.5,463.5 L816.0,463.3 L816.5,463.1 L817.0,462.8 L817.5,462.6 L818.0,462.4 L818.5,462.1 L819.0,461.9 L819.5,461.6 L820.0,461.3 L820.5,461.0 L821.0,460.8 L821.5,460.5 L822.0,460.2 L822.5,460.0 L823.0,459.7 L823.5,459.4 L824.0,459.2 L824.5,458.9 L825.0,458.6 L825.5,458.4 L826.0,458.1 L826.5,457.8 L827.0,457.5 L827.5,457.3 L828.0,457.0 L828.5,456.6 L829.0,456.2 L829.5,455.7 L830.0,455.3 L830.5,454.9 L831.0,454.5 L831.5,454.1 L832.0,453.7 L832.5,453.2 L833.0,452.8 L833.5,452.4 L834.0,452.0 L834.5,451.6 L835.0,451.2 L835.5,450.7 L836.0,450.3 L836.5,449.9 L837.0,449.5 L837.5,449.1 L838.0,448.7 L838.5,448.2 L839.0,447.8 L839.5,447.4 L840.0,447.0 L840.5,446.6 L841.0,446.2 L841.5,445.7 L842.0,445.3 L842.5,444.9 L843.0,444.5 L843.5,444.1 L844.0,443.5 L844.5,442.7 L845.0,442.0 L845.5,441.3 L846.0,440.5 L846.5,439.8 L847.0,439.1 L847.5,438.3 L848.0,437.6 L848.5,436.9 L849.0,436.1 L849.5,435.4 L850.0,434.7 L850.5,433.9 L851.0,433.2 L851.5,432.5 L852.0,431.7 L852.5,431.0 L853.0,430.3 L853.5,429.5 L854.0,428.8 L854.5,428.1 L855.0,427.3 L855.5,426.6 L856.0,425.9 L856.5,425.1 L857.0,424.6 L857.5,424.2 L858.0,423.8 L858.5,423.5 L859.0,423.1 L859.5,422.7 L860.0,422.4 L860.5,422.0 L861.0,421.6 L861.5,421.3 L862.0,420.9 L862.5,420.5 L863.0,420.2 L863.5,419.8 L864.0,419.4 L864.5,419.1 L865.0,418.7 L865.5,418.3 L866.0,418.0 L866.5,417.6 L867.0,417.2 L867.5,416.9 L868.0,416.5 L868.5,416.1 L869.0,415.8 L869.5,415.4 L870.0,415.0 L870.5,414.6 L871.0,414.2 L871.5,413.8 L872.0,413.5 L872.5,413.1 L873.0,412.7 L873.5,412.3 L874.0,411.9 L874.5,411.5 L875.0,411.1 L875.5,410.7 L876.0,410.3 L876.5,409.9 L877.0,409.5 L877.5,409.2 L878.0,408.8 L878.5,408.4 L879.0,408.0 L879.5,407.6 L880.0,407.2 L880.5,406.8 L881.0,406.3 L881.5,405.8 L882.0,405.4 L882.5,404.9 L883.0,404.5 L883.5,404.1 L884.0,403.6 L884.5,403.1 L885.0,402.7 L885.5,402.2 L886.0,401.8 L886.5,401.4 L887.0,400.9 L887.5,400.4 L888.0,400.0 L888.5,399.5 L889.0,399.0 L889.5,398.5 L890.0,398.0 L890.5,397.5 L891.0,397.0 L891.5,396.5 L892.0,396.0 L892.5,395.5 L893.0,394.9 L893.5,394.4 L894.0,393.9 L894.5,393.4 L895.0,392.9 L895.5,392.4 L896.0,391.9 L896.5,391.4 L897.0,390.9 L897.5,390.4 L898.0,389.9 L898.5,389.4 L899.0,388.9 L899.5,388.4 L900.0,387.9 L900.5,387.4 L901.0,386.9 L901.5,386.4 L902.0,385.9 L902.5,385.4 L903.0,384.8 L903.5,384.3 L904.0,383.8 L904.5,383.3 L905.0,382.8 L905.5,382.3 L906.0,381.8 L906.5,381.3 L907.0,380.8 L907.5,380.3 L908.0,379.8 L908.5,379.3 L909.0,378.8 L909.5,378.3 L910.0,377.8 L910.5,377.3 L911.0,376.8 L911.5,376.3 L912.0,375.8 L912.5,375.3 L913.0,374.7 L913.5,374.2 L914.0,373.7 L914.5,373.2 L915.0,372.7 L915.5,372.2 L916.0,371.7 L916.5,371.2 L917.0,370.7 L917.5,370.2 L918.0,369.4 L918.5,368.5 L919.0,367.6 L919.5,366.6 L920.0,365.7 L920.5,364.8 L921.0,363.8 L921.5,362.9 L922.0,362.0 L922.5,361.1 L923.0,360.1 L923.5,359.2 L924.0,358.3 L924.5,357.3 L925.0,356.4 L925.5,355.5 L926.0,354.5 L926.5,353.6 L927.0,352.7 L927.5,351.7 L928.0,350.8 L928.0,266.0 L927.5,266.2 L927.0,266.4 L926.5,266.6 L926.0,266.7 L925.5,266.9 L925.0,267.1 L924.5,267.3 L924.0,267.5 L923.5,267.7 L923.0,269.3 L922.5,271.3 L922.0,273.3 L921.5,275.3 L921.0,277.3 L920.5,279.3 L920.0,281.3 L919.5,283.3 L919.0,285.3 L918.5,287.2 L918.0,289.2 L917.5,291.2 L917.0,293.2 L916.5,295.2 L916.0,297.2 L915.5,299.2 L915.0,301.2 L914.5,303.2 L914.0,303.7 L913.5,304.3 L913.0,304.8 L912.5,305.3 L912.0,305.8 L911.5,306.4 L911.0,306.9 L910.5,307.4 L910.0,308.0 L909.5,308.5 L909.0,309.0 L908.5,309.6 L908.0,310.1 L907.5,310.6 L907.0,311.1 L906.5,311.7 L906.0,312.2 L905.5,312.7 L905.0,313.3 L904.5,313.8 L904.0,314.3 L903.5,314.8 L903.0,315.4 L902.5,315.9 L902.0,316.4 L901.5,317.0 L901.0,317.5 L900.5,318.0 L900.0,318.6 L899.5,319.1 L899.0,319.7 L898.5,320.3 L898.0,320.9 L897.5,321.5 L897.0,322.2 L896.5,322.8 L896.0,323.4 L895.5,324.0 L895.0,324.7 L894.5,325.3 L894.0,325.9 L893.5,326.6 L893.0,327.2 L892.5,327.8 L892.0,328.4 L891.5,329.1 L891.0,329.7 L890.5,330.3 L890.0,330.9 L889.5,331.6 L889.0,332.2 L888.5,332.8 L888.0,333.5 L887.5,334.1 L887.0,334.7 L886.5,335.3 L886.0,336.0 L885.5,336.6 L885.0,337.2 L884.5,337.9 L884.0,338.5 L883.5,339.1 L883.0,339.7 L882.5,340.4 L882.0,341.0 L881.5,341.6 L881.0,342.2 L880.5,342.9 L880.0,343.5 L879.5,343.9 L879.0,344.4 L878.5,344.8 L878.0,345.2 L877.5,345.7 L877.0,346.1 L876.5,346.5 L876.0,346.9 L875.5,347.4 L875.0,347.8 L874.5,348.2 L874.0,348.7 L873.5,349.1 L873.0,349.5 L872.5,350.0 L872.0,350.4 L871.5,350.8 L871.0,351.3 L870.5,351.7 L870.0,352.1 L869.5,352.6 L869.0,353.0 L868.5,353.5 L868.0,354.0 L867.5,354.5 L867.0,354.9 L866.5,355.4 L866.0,355.9 L865.5,356.3 L865.0,356.8 L864.5,357.3 L864.0,357.7 L863.5,358.2 L863.0,358.7 L862.5,359.1 L862.0,359.6 L861.5,360.1 L861.0,360.6 L860.5,361.0 L860.0,361.5 L859.5,362.0 L859.0,362.4 L858.5,362.9 L858.0,363.4 L857.5,363.8 L857.0,364.3 L856.5,365.5 L856.0,367.1 L855.5,368.7 L855.0,370.3 L854.5,371.9 L854.0,373.5 L853.5,375.1 L853.0,376.7 L852.5,378.3 L852.0,379.9 L851.5,381.5 L851.0,383.1 L850.5,384.7 L850.0,386.2 L849.5,387.8 L849.0,389.4 L848.5,391.0 L848.0,392.6 L847.5,394.2 L847.0,395.8 L846.5,397.4 L846.0,399.0 L845.5,400.6 L845.0,402.2 L844.5,403.8 L844.0,405.4 L843.5,406.8 L843.0,407.8 L842.5,408.8 L842.0,409.8 L841.5,410.8 L841.0,411.8 L840.5,412.7 L840.0,413.7 L839.5,414.7 L839.0,415.7 L838.5,416.7 L838.0,417.7 L837.5,418.7 L837.0,419.7 L836.5,420.7 L836.0,421.7 L835.5,422.7 L835.0,423.7 L834.5,424.7 L834.0,425.6 L833.5,426.6 L833.0,427.6 L832.5,428.6 L832.0,429.6 L831.5,430.6 L831.0,431.4 L830.5,432.0 L830.0,432.7 L829.5,433.4 L829.0,434.1 L828.5,434.8 L828.0,435.5 L827.5,436.2 L827.0,436.9 L826.5,437.5 L826.0,438.2 L825.5,438.9 L825.0,439.6 L824.5,440.3 L824.0,441.0 L823.5,441.7 L823.0,442.4 L822.5,443.1 L822.0,443.7 L821.5,444.4 L821.0,445.1 L820.5,445.8 L820.0,446.5 L819.5,447.2 L819.0,448.0 L818.5,448.7 L818.0,449.4 L817.5,450.1 L817.0,450.9 L816.5,451.6 L816.0,452.3 L815.5,453.1 L815.0,453.8 L814.5,454.5 L814.0,455.2 L813.5,456.0 L813.0,456.7 L812.5,457.4 L812.0,458.1 L811.5,458.9 L811.0,459.6 L810.5,459.9 L810.0,460.2 L809.5,460.4 L809.0,460.7 L808.5,461.0 L808.0,461.3 L807.5,461.5 L807.0,461.8 L806.5,462.1 L806.0,462.4 L805.5,462.6 L805.0,462.9 L804.5,463.2 L804.0,463.5 L803.5,463.7 L803.0,464.0 L802.5,464.3 L802.0,464.6 L801.5,464.9 L801.0,465.1 L800.5,465.4 L800.0,465.7 L799.5,466.0 L799.0,466.2 L798.5,466.5 L798.0,466.8 L797.5,467.1 L797.0,467.3 L796.5,467.4 L796.0,467.5 L795.5,467.5 L795.0,467.5 L794.5,467.6 L794.0,467.6 L793.5,467.6 L793.0,467.7 L792.5,467.7 L792.0,467.7 L791.5,467.8 L791.0,467.8 L790.5,467.8 L790.0,467.9 L789.5,467.9 L789.0,467.9 L788.5,468.0 L788.0,468.0 L787.5,468.0 L787.0,468.1 L786.5,468.1 L786.0,468.1 L785.5,468.2 L785.0,468.2 L784.5,468.2 L784.0,468.3 L783.5,468.3 L783.0,468.3 L782.5,468.4 L782.0,468.4 L781.5,468.4 L781.0,468.4 L780.5,468.5 L780.0,468.5 L779.5,468.5 L779.0,468.6 L778.5,468.6 L778.0,468.6 L777.5,468.7 L777.0,468.7 L776.5,468.7 L776.0,468.8 L775.5,468.8 L775.0,468.7 L774.5,468.7 L774.0,468.6 L773.5,468.6 L773.0,468.5 L772.5,468.5 L772.0,468.4 L771.5,468.4 L771.0,468.3 L770.5,468.3 L770.0,468.2 L769.5,468.2 L769.0,468.1 L768.5,468.1 L768.0,468.0 L767.5,467.9 L767.0,467.9 L766.5,467.8 L766.0,467.8 L765.5,467.7 L765.0,467.7 L764.5,467.6 L764.0,467.6 L763.5,467.5 L763.0,467.5 L762.5,467.4 L762.0,467.4 L761.5,467.3 L761.0,467.3 L760.5,467.2 L760.0,467.2 L759.5,467.1 L759.0,467.1 L758.5,467.0 L758.0,467.0 L757.5,466.9 L757.0,466.9 L756.5,467.0 L756.0,467.0 L755.5,467.0 L755.0,467.1 L754.5,467.1 L754.0,467.1 L753.5,467.2 L753.0,467.2 L752.5,467.2 L752.0,467.3 L751.5,467.3 L751.0,467.3 L750.5,467.3 L750.0,467.4 L749.5,467.4 L749.0,467.4 L748.5,467.5 L748.0,467.5 L747.5,467.5 L747.0,467.6 L746.5,467.6 L746.0,467.6 L745.5,467.7 L745.0,467.7 L744.5,467.7 L744.0,467.8 L743.5,467.8 L743.0,467.8 L742.5,467.9 L742.0,467.9 L741.5,467.9 L741.0,468.0 L740.5,468.0 L740.0,468.1 L739.5,468.2 L739.0,468.2 L738.5,468.3 L738.0,468.4 L737.5,468.5 L737.0,468.5 L736.5,468.6 L736.0,468.7 L735.5,468.8 L735.0,468.8 L734.5,468.9 L734.0,469.0 L733.5,469.1 L733.0,469.1 L732.5,469.2 L732.0,469.3 L731.5,469.4 L731.0,469.4 L730.5,469.5 L730.0,469.6 L729.5,469.7 L729.0,469.8 L728.5,469.8 L728.0,469.9 L727.5,470.0 L727.0,470.1 L726.5,470.1 L726.0,470.2 L725.5,470.3 L725.0,470.4 L724.5,470.4 L724.0,470.5 L723.5,470.6 L723.0,470.7 L722.5,470.7 L722.0,470.8 L721.5,470.9 L721.0,471.0 L720.5,471.0 L720.0,471.1 L719.5,471.2 L719.0,471.3 L718.5,471.4 L718.0,471.4 L717.5,471.5 L717.0,471.6 L716.5,471.7 L716.0,471.7 L715.5,471.8 L715.0,471.9 L714.5,472.0 L714.0,472.0 L713.5,472.1 L713.0,472.2 L712.5,472.3 L712.0,472.4 L711.5,472.5 L711.0,472.6 L710.5,472.8 L710.0,472.9 L709.5,473.0 L709.0,473.2 L708.5,473.3 L708.0,473.4 L707.5,473.5 L707.0,473.7 L706.5,473.8 L706.0,473.9 L705.5,474.1 L705.0,474.2 L704.5,474.3 L704.0,474.4 L703.5,474.6 L703.0,474.7 L702.5,474.8 L702.0,475.0 L701.5,475.1 L701.0,475.2 L700.5,475.4 L700.0,475.5 L699.5,475.6 L699.0,475.7 L698.5,475.9 L698.0,476.0 L697.5,475.6 L697.0,475.3 L696.5,474.9 L696.0,474.5 L695.5,474.2 L695.0,473.8 L694.5,473.4 L694.0,473.0 L693.5,472.7 L693.0,472.3 L692.5,471.9 L692.0,471.6 L691.5,471.2 L691.0,470.8 L690.5,470.6 L690.0,470.3 L689.5,470.1 L689.0,469.8 L688.5,469.6 L688.0,469.3 L687.5,469.1 L687.0,468.8 L686.5,468.6 L686.0,468.3 L685.5,468.1 L685.0,467.8 L684.5,467.6 L684.0,467.3 L683.5,467.1 L683.0,466.8 L682.5,466.6 L682.0,466.3 L681.5,466.1 L681.0,465.8 L680.5,465.6 L680.0,465.3 L679.5,465.1 L679.0,464.8 L678.5,464.6 L678.0,464.3 L677.5,464.1 L677.0,463.8 L676.5,463.6 L676.0,463.3 L675.5,463.1 L675.0,462.7 L674.5,462.4 L674.0,462.0 L673.5,461.7 L673.0,461.3 L672.5,461.0 L672.0,460.6 L671.5,460.3 L671.0,459.9 L670.5,459.6 L670.0,459.2 L669.5,458.9 L669.0,458.5 L668.5,458.2 L668.0,457.8 L667.5,457.5 L667.0,457.1 L666.5,456.8 L666.0,456.4 L665.5,456.1 L665.0,455.7 L664.5,455.4 L664.0,455.0 L663.5,454.7 L663.0,454.3 L662.5,454.0 L662.0,453.6 L661.5,453.5 L661.0,453.4 L660.5,453.3 L660.0,453.2 L659.5,453.1 L659.0,453.0 L658.5,452.9 L658.0,452.8 L657.5,452.6 L657.0,452.5 L656.5,452.4 L656.0,452.3 L655.5,452.2 L655.0,452.1 L654.5,452.0 L654.0,451.9 L653.5,451.8 L653.0,451.7 L652.5,451.6 L652.0,451.5 L651.5,451.4 L651.0,451.3 L650.5,451.2 L650.0,451.1 L649.5,451.0 L649.0,450.9 L648.5,450.7 L648.0,450.6 L647.5,450.5 L647.0,450.4 L646.5,450.3 L646.0,450.2 L645.5,450.3 L645.0,450.4 L644.5,450.4 L644.0,450.5 L643.5,450.6 L643.0,450.7 L642.5,450.8 L642.0,450.9 L641.5,450.9 L641.0,451.0 L640.5,451.1 L640.0,451.2 L639.5,451.3 L639.0,451.4 L638.5,451.4 L638.0,451.5 L637.5,451.6 L637.0,451.7 L636.5,451.8 L636.0,451.9 L635.5,451.9 L635.0,452.0 L634.5,452.1 L634.0,452.2 L633.5,452.3 L633.0,452.4 L632.5,452.4 L632.0,452.5 L631.5,452.6 L631.0,452.7 L630.5,452.8 L630.0,452.9 L629.5,453.0 L629.0,453.1 L628.5,453.3 L628.0,453.4 L627.5,453.6 L627.0,453.7 L626.5,453.9 L626.0,454.0 L625.5,454.2 L625.0,454.3 L624.5,454.4 L624.0,454.6 L623.5,454.7 L623.0,454.9 L622.5,455.0 L622.0,455.2 L621.5,455.3 L621.0,455.5 L620.5,455.6 L620.0,455.8 L619.5,455.9 L619.0,456.1 L618.5,456.2 L618.0,456.3 L617.5,456.5 L617.0,456.6 L616.5,456.8 L616.0,456.9 L615.5,457.1 L615.0,457.2 L614.5,457.4 L614.0,457.5 L613.5,457.8 L613.0,458.3 L612.5,458.8 L612.0,459.3 L611.5,459.8 L611.0,460.3 L610.5,460.8 L610.0,461.3 L609.5,461.8 L609.0,462.3 L608.5,462.8 L608.0,463.3 L607.5,463.8 L607.0,464.3 L606.5,464.8 L606.0,465.3 L605.5,465.8 L605.0,466.3 L604.5,466.8 L604.0,467.3 L603.5,467.8 L603.0,468.3 L602.5,468.8 L602.0,469.3 L601.5,469.8 L601.0,470.3 L600.5,470.8 L600.0,471.5 L599.5,472.3 L599.0,473.2 L598.5,474.0 L598.0,474.8 L597.5,475.7 L597.0,476.5 L596.5,477.3 L596.0,478.2 L595.5,479.0 L595.0,479.8 L594.5,480.7 L594.0,481.5 L593.5,482.3 L593.0,483.2 L592.5,484.0 L592.0,484.8 L591.5,485.7 L591.0,486.5 L590.5,487.3 L590.0,488.2 L589.5,489.0 L589.0,489.8 L588.5,490.7 L588.0,491.5 L587.5,492.3 L587.0,493.2 L586.5,493.7 L586.0,494.0 L585.5,494.3 L585.0,494.6 L584.5,494.9 L584.0,495.2 L583.5,495.5 L583.0,495.8 L582.5,496.1 L582.0,496.4 L581.5,496.7 L581.0,497.0 L580.5,497.3 L580.0,497.6 L579.5,497.9 L579.0,498.2 L578.5,498.5 L578.0,498.8 L577.5,499.1 L577.0,499.4 L576.5,499.7 L576.0,500.0 L575.5,500.3 L575.0,500.6 L574.5,500.9 L574.0,501.2 L573.5,501.5 L573.0,501.8 L572.5,502.1 L572.0,502.4 L571.5,502.7 L571.0,503.0 Z" fill="#2962ff" fill-opacity="0.07"/>
<path d="M10,323.3 L60,323.8 L120,324.2 L136,326.3 L154,327.3 L171,330.5 L187,336.5 L202.5,345.2 L217,352.5 L232.7,358.5 L240,361 L257.7,368 L272.2,376.6 L286.7,383.8 L301.2,389.5 L314.1,395.9 L328.6,404.8 L343.1,411.2 L360,420.9 L370.9,427.6 L387,435.1 L414.4,446.4 L428.9,457.2 L446.6,466.5 L460,474 L470,479.4 L484.2,486.1 L508.3,501.4 L529.3,513.8 L543.8,515.9 L563.1,506.7 L585.5,497.9 L613.7,481.7 L640.5,474.4 L656.6,472.3 L667.4,473 L680,474.4 L698.2,476.2 L726.4,473.7 L754.6,471.9 L782.8,472.3 L799.7,470.9 L803.5,468.9 L818,462.4 L828,457 L843.7,443.9 L856.8,424.7 L869.9,415.1 L880,407.2 L888,400 L917.7,370 L928,350.8" fill="none" stroke="#999999" stroke-width="1.1"/>
<line x1="10" y1="235.6" x2="592" y2="420.5" stroke="#9a9a9a" stroke-width="1.1" stroke-dasharray="5 6"/>
<line x1="572" y1="331.5" x2="1071" y2="331.5" stroke="#9a9a9a" stroke-width="1" stroke-dasharray="5 6"/>
<line x1="685" y1="515.5" x2="1071" y2="515.5" stroke="#9a9a9a" stroke-width="1"/>
<line x1="443" y1="606.5" x2="1071" y2="606.5" stroke="#9a9a9a" stroke-width="1"/>
<rect x="16" y="309" width="1" height="20" fill="#f23645"/>
<rect x="11" y="311" width="11" height="13" fill="#f23645"/>
<rect x="30" y="318" width="1" height="14" fill="#f23645"/>
<rect x="25" y="323" width="11" height="4" fill="#f23645"/>
<rect x="44" y="319" width="1" height="10" fill="#2962ff"/>
<rect x="39" y="324" width="11" height="2" fill="#2962ff"/>
<rect x="58" y="322" width="1" height="5" fill="#f23645"/>
<rect x="53" y="324" width="11" height="2" fill="#f23645"/>
<rect x="73" y="320" width="1" height="7" fill="#2962ff"/>
<rect x="68" y="324" width="11" height="2" fill="#2962ff"/>
<rect x="87" y="322" width="1" height="15" fill="#f23645"/>
<rect x="82" y="323" width="11" height="11" fill="#f23645"/>
<rect x="101" y="315" width="1" height="21" fill="#2962ff"/>
<rect x="96" y="321" width="11" height="13" fill="#2962ff"/>
<rect x="115" y="312" width="1" height="15" fill="#f23645"/>
<rect x="110" y="321" width="11" height="2" fill="#f23645"/>
<rect x="130" y="322" width="1" height="27" fill="#f23645"/>
<rect x="125" y="323" width="11" height="18" fill="#f23645"/>
<rect x="144" y="333" width="1" height="10" fill="#2962ff"/>
<rect x="139" y="338" width="11" height="3" fill="#2962ff"/>
<rect x="158" y="335" width="1" height="7" fill="#f23645"/>
<rect x="153" y="338" width="11" height="3" fill="#f23645"/>
<rect x="172" y="339" width="1" height="18" fill="#f23645"/>
<rect x="167" y="340" width="11" height="17" fill="#f23645"/>
<rect x="187" y="356" width="1" height="178" fill="#f23645"/>
<rect x="182" y="356" width="11" height="31" fill="#f23645"/>
<rect x="201" y="363" width="1" height="65" fill="#f23645"/>
<rect x="196" y="386" width="11" height="36" fill="#f23645"/>
<rect x="215" y="406" width="1" height="36" fill="#2962ff"/>
<rect x="210" y="421" width="11" height="1" fill="#2962ff"/>
<rect x="230" y="390" width="1" height="32" fill="#2962ff"/>
<rect x="225" y="409" width="11" height="13" fill="#2962ff"/>
<rect x="244" y="402" width="1" height="23" fill="#f23645"/>
<rect x="239" y="408" width="11" height="11" fill="#f23645"/>
<rect x="258" y="412" width="1" height="11" fill="#f23645"/>
<rect x="253" y="418" width="11" height="1" fill="#f23645"/>
<rect x="272" y="418" width="1" height="52" fill="#f23645"/>
<rect x="267" y="419" width="11" height="33" fill="#f23645"/>
<rect x="287" y="443" width="1" height="27" fill="#f23645"/>
<rect x="282" y="451" width="11" height="4" fill="#f23645"/>
<rect x="301" y="440" width="1" height="20" fill="#2962ff"/>
<rect x="296" y="447" width="11" height="8" fill="#2962ff"/>
<rect x="315" y="446" width="1" height="21" fill="#f23645"/>
<rect x="310" y="446" width="11" height="16" fill="#f23645"/>
<rect x="329" y="460" width="1" height="45" fill="#f23645"/>
<rect x="324" y="461" width="11" height="28" fill="#f23645"/>
<rect x="344" y="458" width="1" height="39" fill="#2962ff"/>
<rect x="339" y="467" width="11" height="22" fill="#2962ff"/>
<rect x="358" y="445" width="1" height="103" fill="#f23645"/>
<rect x="353" y="467" width="11" height="30" fill="#f23645"/>
<rect x="372" y="487" width="1" height="37" fill="#f23645"/>
<rect x="367" y="497" width="11" height="16" fill="#f23645"/>
<rect x="386" y="493" width="1" height="38" fill="#2962ff"/>
<rect x="381" y="497" width="11" height="16" fill="#2962ff"/>
<rect x="401" y="484" width="1" height="37" fill="#f23645"/>
<rect x="396" y="497" width="11" height="4" fill="#f23645"/>
<rect x="415" y="490" width="1" height="25" fill="#f23645"/>
<rect x="410" y="500" width="11" height="8" fill="#f23645"/>
<rect x="429" y="502" width="1" height="63" fill="#f23645"/>
<rect x="424" y="507" width="11" height="50" fill="#f23645"/>
<rect x="443" y="520" width="1" height="86" fill="#2962ff"/>
<rect x="438" y="535" width="11" height="22" fill="#2962ff"/>
<rect x="458" y="525" width="1" height="34" fill="#f23645"/>
<rect x="453" y="534" width="11" height="16" fill="#f23645"/>
<rect x="472" y="546" width="1" height="10" fill="#f23645"/>
<rect x="467" y="549" width="11" height="6" fill="#f23645"/>
<rect x="486" y="548" width="1" height="23" fill="#f23645"/>
<rect x="481" y="554" width="11" height="12" fill="#f23645"/>
<rect x="500" y="561" width="1" height="26" fill="#f23645"/>
<rect x="495" y="564" width="11" height="17" fill="#f23645"/>
<rect x="515" y="575" width="1" height="27" fill="#f23645"/>
<rect x="510" y="580" width="11" height="17" fill="#f23645"/>
<rect x="529" y="575" width="1" height="23" fill="#2962ff"/>
<rect x="524" y="585" width="11" height="13" fill="#2962ff"/>
<rect x="543" y="485" width="1" height="104" fill="#2962ff"/>
<rect x="538" y="534" width="11" height="52" fill="#2962ff"/>
<rect x="557" y="402" width="1" height="136" fill="#2962ff"/>
<rect x="552" y="447" width="11" height="87" fill="#2962ff"/>
<rect x="572" y="331" width="1" height="138" fill="#2962ff"/>
<rect x="567" y="441" width="11" height="7" fill="#2962ff"/>
<rect x="586" y="405" width="1" height="69" fill="#f23645"/>
<rect x="581" y="442" width="11" height="14" fill="#f23645"/>
<rect x="600" y="407" width="1" height="52" fill="#2962ff"/>
<rect x="595" y="409" width="11" height="46" fill="#2962ff"/>
<rect x="614" y="379" width="1" height="38" fill="#f23645"/>
<rect x="609" y="409" width="11" height="3" fill="#f23645"/>
<rect x="629" y="389" width="1" height="73" fill="#f23645"/>
<rect x="624" y="411" width="11" height="33" fill="#f23645"/>
<rect x="643" y="432" width="1" height="28" fill="#2962ff"/>
<rect x="638" y="437" width="11" height="7" fill="#2962ff"/>
<rect x="657" y="436" width="1" height="21" fill="#f23645"/>
<rect x="652" y="437" width="11" height="15" fill="#f23645"/>
<rect x="671" y="451" width="1" height="44" fill="#f23645"/>
<rect x="666" y="451" width="11" height="33" fill="#f23645"/>
<rect x="686" y="483" width="1" height="32" fill="#f23645"/>
<rect x="681" y="483" width="11" height="17" fill="#f23645"/>
<rect x="700" y="475" width="1" height="25" fill="#2962ff"/>
<rect x="695" y="489" width="11" height="11" fill="#2962ff"/>
<rect x="714" y="450" width="1" height="42" fill="#2962ff"/>
<rect x="709" y="468" width="11" height="22" fill="#2962ff"/>
<rect x="729" y="456" width="1" height="28" fill="#f23645"/>
<rect x="724" y="468" width="11" height="3" fill="#f23645"/>
<rect x="743" y="448" width="1" height="27" fill="#2962ff"/>
<rect x="738" y="457" width="11" height="14" fill="#2962ff"/>
<rect x="757" y="447" width="1" height="47" fill="#f23645"/>
<rect x="752" y="456" width="11" height="5" fill="#f23645"/>
<rect x="771" y="452" width="1" height="31" fill="#f23645"/>
<rect x="766" y="461" width="11" height="13" fill="#f23645"/>
<rect x="786" y="458" width="1" height="21" fill="#2962ff"/>
<rect x="781" y="466" width="11" height="8" fill="#2962ff"/>
<rect x="800" y="454" width="1" height="17" fill="#2962ff"/>
<rect x="795" y="463" width="11" height="5" fill="#2962ff"/>
<rect x="814" y="401" width="1" height="65" fill="#2962ff"/>
<rect x="809" y="419" width="11" height="45" fill="#2962ff"/>
<rect x="828" y="340" width="1" height="87" fill="#2962ff"/>
<rect x="823" y="372" width="11" height="48" fill="#2962ff"/>
<rect x="843" y="322" width="1" height="55" fill="#2962ff"/>
<rect x="838" y="325" width="11" height="48" fill="#2962ff"/>
<rect x="857" y="215" width="1" height="112" fill="#2962ff"/>
<rect x="852" y="231" width="11" height="95" fill="#2962ff"/>
<rect x="871" y="231" width="1" height="142" fill="#f23645"/>
<rect x="866" y="231" width="11" height="91" fill="#f23645"/>
<rect x="885" y="274" width="1" height="54" fill="#2962ff"/>
<rect x="880" y="299" width="11" height="22" fill="#2962ff"/>
<rect x="900" y="246" width="1" height="69" fill="#2962ff"/>
<rect x="895" y="255" width="11" height="45" fill="#2962ff"/>
<rect x="914" y="221" width="1" height="58" fill="#f23645"/>
<rect x="909" y="254" width="11" height="13" fill="#f23645"/>
<rect x="928" y="90" width="1" height="213" fill="#2962ff"/>
<rect x="923" y="97" width="11" height="170" fill="#2962ff"/>
</g>
<rect x="1072" y="89" width="49" height="31" rx="2" fill="#2962ff"/>
<rect x="1072" y="89" width="4" height="31" fill="#2962ff"/>
<text x="1079.8" y="102" font-size="12.8" font-weight="bold" fill="#ffffff" textLength="35.9" lengthAdjust="spacingAndGlyphs">0.2726</text>
<text x="1079.8" y="116" font-size="12.8" fill="#ffffff" fill-opacity="0.85" textLength="30.2" lengthAdjust="spacingAndGlyphs">33:10</text>
<text x="10" y="18.8" font-size="12.2" fill="#131722" font-weight="normal" text-anchor="start" textLength="384" lengthAdjust="spacingAndGlyphs">alexvallenilla created with TradingView.com, Mar 12, 2026 19:26 UTC-4</text>
<text x="18.5" y="45.8" font-size="12.5" fill="#131722" font-weight="normal" text-anchor="start" textLength="199.7" lengthAdjust="spacingAndGlyphs">PIUSDT · Pi Network/USDT · 1D · OKX</text>
<text x="226.1" y="45.8" font-size="12.5" fill="#131722" font-weight="normal" text-anchor="start" textLength="7.2" lengthAdjust="spacingAndGlyphs">O</text>
<text x="234" y="45.8" font-size="12.5" fill="#2962ff" font-weight="normal" text-anchor="start" textLength="35" lengthAdjust="spacingAndGlyphs">0.2253</text>
<text x="276.9" y="45.8" font-size="12.5" fill="#131722" font-weight="normal" text-anchor="start" textLength="6.8" lengthAdjust="spacingAndGlyphs">H</text>
<text x="284.8" y="45.8" font-size="12.5" fill="#2962ff" font-weight="normal" text-anchor="start" textLength="35.7" lengthAdjust="spacingAndGlyphs">0.2747</text>
<text x="328.4" y="45.8" font-size="12.5" fill="#131722" font-weight="normal" text-anchor="start" textLength="5.2" lengthAdjust="spacingAndGlyphs">L</text>
<text x="334.2" y="45.8" font-size="12.5" fill="#2962ff" font-weight="normal" text-anchor="start" textLength="35.2" lengthAdjust="spacingAndGlyphs">0.2148</text>
<text x="376.8" y="45.8" font-size="12.5" fill="#131722" font-weight="normal" text-anchor="start" textLength="6.6" lengthAdjust="spacingAndGlyphs">C</text>
<text x="384" y="45.8" font-size="12.5" fill="#2962ff" font-weight="normal" text-anchor="start" textLength="35.6" lengthAdjust="spacingAndGlyphs">0.2726</text>
<text x="427.4" y="45.8" font-size="12.5" fill="#2962ff" font-weight="normal" text-anchor="start" textLength="97" lengthAdjust="spacingAndGlyphs">+0.0472 (+20.94%)</text>
<text x="532.3" y="45.8" font-size="12.5" fill="#131722" font-weight="normal" text-anchor="start" textLength="16.2" lengthAdjust="spacingAndGlyphs">Vol</text>
<text x="548.7" y="45.8" font-size="12.5" fill="#2962ff" font-weight="normal" text-anchor="start" textLength="46.3" lengthAdjust="spacingAndGlyphs">165.16 M</text>
<text x="602.4" y="45.8" font-size="12.5" fill="#2962ff" font-weight="normal" text-anchor="start" textLength="97" lengthAdjust="spacingAndGlyphs">+0.0472 (+20.94%)</text>
<text x="1080.2" y="39.90000000000005" font-size="12.8" fill="#131722" font-weight="normal" text-anchor="start" textLength="35.3" lengthAdjust="spacingAndGlyphs">0.2900</text>
<text x="1080.2" y="75.49999999999987" font-size="12.8" fill="#131722" font-weight="normal" text-anchor="start" textLength="35.3" lengthAdjust="spacingAndGlyphs">0.2800</text>
<text x="1080.2" y="146.69999999999993" font-size="12.8" fill="#131722" font-weight="normal" text-anchor="start" textLength="35.3" lengthAdjust="spacingAndGlyphs">0.2600</text>
<text x="1080.2" y="182.29999999999995" font-size="12.8" fill="#131722" font-weight="normal" text-anchor="start" textLength="35.3" lengthAdjust="spacingAndGlyphs">0.2500</text>
<text x="1080.2" y="217.89999999999998" font-size="12.8" fill="#131722" font-weight="normal" text-anchor="start" textLength="35.3" lengthAdjust="spacingAndGlyphs">0.2400</text>
<text x="1080.2" y="253.49999999999994" font-size="12.8" fill="#131722" font-weight="normal" text-anchor="start" textLength="35.3" lengthAdjust="spacingAndGlyphs">0.2300</text>
<text x="1080.2" y="289.09999999999997" font-size="12.8" fill="#131722" font-weight="normal" text-anchor="start" textLength="35.3" lengthAdjust="spacingAndGlyphs">0.2200</text>
<text x="1080.2" y="324.7" font-size="12.8" fill="#131722" font-weight="normal" text-anchor="start" textLength="35.3" lengthAdjust="spacingAndGlyphs">0.2100</text>
<text x="1080.2" y="360.2999999999999" font-size="12.8" fill="#131722" font-weight="normal" text-anchor="start" textLength="35.3" lengthAdjust="spacingAndGlyphs">0.2000</text>
<text x="1080.2" y="395.8999999999999" font-size="12.8" fill="#131722" font-weight="normal" text-anchor="start" textLength="35.3" lengthAdjust="spacingAndGlyphs">0.1900</text>
<text x="1080.2" y="431.5" font-size="12.8" fill="#131722" font-weight="normal" text-anchor="start" textLength="35.3" lengthAdjust="spacingAndGlyphs">0.1800</text>
<text x="1080.2" y="467.0999999999999" font-size="12.8" fill="#131722" font-weight="normal" text-anchor="start" textLength="35.3" lengthAdjust="spacingAndGlyphs">0.1700</text>
<text x="1080.2" y="502.7" font-size="12.8" fill="#131722" font-weight="normal" text-anchor="start" textLength="35.3" lengthAdjust="spacingAndGlyphs">0.1600</text>
<text x="1080.2" y="538.3000000000001" font-size="12.8" fill="#131722" font-weight="normal" text-anchor="start" textLength="35.3" lengthAdjust="spacingAndGlyphs">0.1500</text>
<text x="1080.2" y="573.9" font-size="12.8" fill="#131722" font-weight="normal" text-anchor="start" textLength="35.3" lengthAdjust="spacingAndGlyphs">0.1400</text>
<text x="1080.2" y="609.5" font-size="12.8" fill="#131722" font-weight="normal" text-anchor="start" textLength="35.3" lengthAdjust="spacingAndGlyphs">0.1300</text>
<text x="1080.2" y="645.1" font-size="12.8" fill="#131722" font-weight="normal" text-anchor="start" textLength="35.3" lengthAdjust="spacingAndGlyphs">0.1200</text>
<text x="44" y="675" font-size="12.5" fill="#131722" font-weight="normal" text-anchor="middle" textLength="5.9" lengthAdjust="spacingAndGlyphs">9</text>
<text x="101" y="675" font-size="12.5" fill="#131722" font-weight="normal" text-anchor="middle" textLength="11.3" lengthAdjust="spacingAndGlyphs">13</text>
<text x="158" y="675" font-size="12.5" fill="#131722" font-weight="normal" text-anchor="middle" textLength="11.3" lengthAdjust="spacingAndGlyphs">17</text>
<text x="215" y="675" font-size="12.5" fill="#131722" font-weight="normal" text-anchor="middle" textLength="11.3" lengthAdjust="spacingAndGlyphs">21</text>
<text x="272" y="675" font-size="12.5" fill="#131722" font-weight="normal" text-anchor="middle" textLength="11.3" lengthAdjust="spacingAndGlyphs">25</text>
<text x="372.3" y="675" font-size="12.5" fill="#131722" font-weight="bold" text-anchor="middle" textLength="20" lengthAdjust="spacingAndGlyphs">Feb</text>
<text x="429.2" y="675" font-size="12.5" fill="#131722" font-weight="normal" text-anchor="middle" textLength="5.9" lengthAdjust="spacingAndGlyphs">5</text>
<text x="486.2" y="675" font-size="12.5" fill="#131722" font-weight="normal" text-anchor="middle" textLength="5.9" lengthAdjust="spacingAndGlyphs">9</text>
<text x="543.3" y="675" font-size="12.5" fill="#131722" font-weight="normal" text-anchor="middle" textLength="11.3" lengthAdjust="spacingAndGlyphs">13</text>
<text x="600" y="675" font-size="12.5" fill="#131722" font-weight="normal" text-anchor="middle" textLength="11.3" lengthAdjust="spacingAndGlyphs">17</text>
<text x="657" y="675" font-size="12.5" fill="#131722" font-weight="normal" text-anchor="middle" textLength="11.3" lengthAdjust="spacingAndGlyphs">21</text>
<text x="714" y="675" font-size="12.5" fill="#131722" font-weight="normal" text-anchor="middle" textLength="11.3" lengthAdjust="spacingAndGlyphs">25</text>
<text x="771" y="675" font-size="12.5" fill="#131722" font-weight="bold" text-anchor="middle" textLength="21" lengthAdjust="spacingAndGlyphs">Mar</text>
<text x="828" y="675" font-size="12.5" fill="#131722" font-weight="normal" text-anchor="middle" textLength="5.9" lengthAdjust="spacingAndGlyphs">5</text>
<text x="885" y="675" font-size="12.5" fill="#131722" font-weight="normal" text-anchor="middle" textLength="5.9" lengthAdjust="spacingAndGlyphs">9</text>
<text x="942" y="675" font-size="12.5" fill="#131722" font-weight="normal" text-anchor="middle" textLength="11.3" lengthAdjust="spacingAndGlyphs">13</text>
<text x="999" y="675" font-size="12.5" fill="#131722" font-weight="normal" text-anchor="middle" textLength="11.3" lengthAdjust="spacingAndGlyphs">17</text>
<text x="1056" y="675" font-size="12.5" fill="#131722" font-weight="normal" text-anchor="middle" textLength="11.3" lengthAdjust="spacingAndGlyphs">21</text>
<text x="448.5" y="625.85" font-size="13.8" fill="#6a6a6a" font-weight="normal" text-anchor="middle">1</text>
<text x="520.5" y="627.45" font-size="13.8" fill="#6a6a6a" font-weight="normal" text-anchor="middle">2</text>
<text x="548.5" y="604.85" font-size="13.8" fill="#6a6a6a" font-weight="normal" text-anchor="middle">3</text>
<text x="577.6" y="490.45000000000005" font-size="13.8" fill="#6a6a6a" font-weight="normal" text-anchor="middle">4</text>
<text x="619.6" y="374.15000000000003" font-size="13.8" fill="#6a6a6a" font-weight="normal" text-anchor="middle">5</text>
<text x="691.6" y="533.15" font-size="13.8" fill="#6a6a6a" font-weight="normal" text-anchor="middle">6</text>
<text x="719.7" y="508.95000000000005" font-size="13.8" fill="#6a6a6a" font-weight="normal" text-anchor="middle">7</text>
<text x="819.7" y="481.85" font-size="13.8" fill="#6a6a6a" font-weight="normal" text-anchor="middle">8</text>
<text x="819.7" y="327.65000000000003" font-size="13.8" fill="#6a6a6a" font-weight="normal" text-anchor="middle">9</text>
<text x="837.6" y="314.95000000000005" font-size="13.8" fill="#6a6a6a" font-weight="normal" text-anchor="middle">10</text>
<text x="866.4" y="224.15" font-size="13.8" fill="#6a6a6a" font-weight="normal" text-anchor="middle">11</text>
<text x="880.4" y="342.85" font-size="13.8" fill="#6a6a6a" font-weight="normal" text-anchor="middle">12</text>
<text x="909.3" y="214.95" font-size="13.8" fill="#6a6a6a" font-weight="normal" text-anchor="middle">13</text>
<text x="923.7" y="82.05" font-size="13.8" fill="#6a6a6a" font-weight="normal" text-anchor="middle">14</text>
<g fill="#131313">
<path d="M12,707 H24 V722 H18 V713 H12 Z"/>
<circle cx="28.9" cy="709.9" r="2.9"/>
<path d="M35.3,707 H41.7 L36,722 H29.1 Z"/>
</g>
<text x="49" y="721.8" font-size="21.4" font-weight="bold" fill="#131313" textLength="120.6" lengthAdjust="spacingAndGlyphs">TradingView</text>
</svg>
</body></html>
